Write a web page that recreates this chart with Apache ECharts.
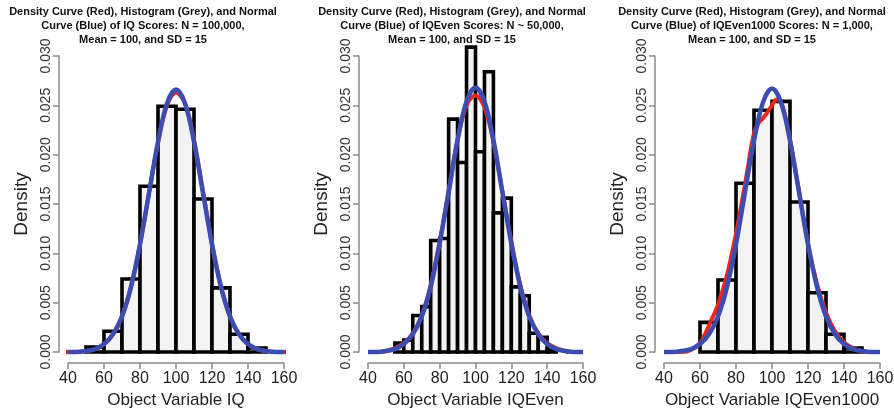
<!DOCTYPE html>
<html><head><meta charset="utf-8">
<script src="https://cdn.jsdelivr.net/npm/echarts@6/dist/echarts.min.js"></script>
<style>html,body{margin:0;padding:0;background:#fff}#c{width:894px;height:408px}</style>
</head><body><div id="c"></div>
<script>
// ---------- data ----------
const panelTitles = [
  'Density Curve (Red), Histogram (Grey), and Normal\nCurve (Blue) of IQ Scores: N = 100,000,\nMean = 100, and SD = 15',
  'Density Curve (Red), Histogram (Grey), and Normal\nCurve (Blue) of IQEven Scores: N ~ 50,000,\nMean = 100, and SD = 15',
  'Density Curve (Red), Histogram (Grey), and Normal\nCurve (Blue) of IQEven1000 Scores: N = 1,000,\nMean = 100, and SD = 15'
];
const xAxisNames = ['Object Variable IQ', 'Object Variable IQEven', 'Object Variable IQEven1000'];
const yAxisName = 'Density';

const iqBinStarts = [50, 60, 70, 80, 90, 100, 110, 120, 130, 140];
const iqBinWidth = 10;
const iqDensity = [0.0005, 0.0021, 0.0074, 0.0168, 0.0249, 0.0246, 0.0155, 0.0065, 0.0018, 0.0004];

const evenBinStarts = [55, 60, 65, 70, 75, 80, 85, 90, 95, 100, 105, 110, 115, 120, 125, 130, 135, 140];
const evenBinWidth = 5;
const evenDensity = [0.0009, 0.0012, 0.0037, 0.0046, 0.0113, 0.0115, 0.0236, 0.0192, 0.0309, 0.0203,
                     0.0284, 0.0141, 0.0156, 0.0066, 0.0057, 0.0019, 0.0015, 0.0003];

const even1000BinStarts = [60, 70, 80, 90, 100, 110, 120, 130, 140];
const even1000BinWidth = 10;
const even1000Density = [0.0030, 0.0073, 0.0171, 0.0245, 0.0254, 0.0152, 0.0060, 0.0018, 0.0004];

const normalX = [40, 45, 50, 55, 60, 65, 70, 75, 80, 85, 90, 95, 100, 105, 110, 115, 120, 125, 130, 135, 140, 145, 150, 155, 160];
const iqNormalY = [0.0000, 0.0000, 0.0001, 0.0003, 0.0008, 0.0018, 0.0036, 0.0066, 0.0109, 0.0161, 0.0213, 0.0252, 0.0266,
                   0.0252, 0.0213, 0.0161, 0.0109, 0.0066, 0.0036, 0.0018, 0.0008, 0.0003, 0.0001, 0.0000, 0.0000];
const evenNormalY = [0.0000, 0.0000, 0.0001, 0.0003, 0.0008, 0.0018, 0.0036, 0.0066, 0.0110, 0.0162, 0.0215, 0.0254, 0.0268,
                     0.0254, 0.0215, 0.0162, 0.0110, 0.0066, 0.0036, 0.0018, 0.0008, 0.0003, 0.0001, 0.0000, 0.0000];
const even1000NormalY = [0.0000, 0.0000, 0.0001, 0.0003, 0.0008, 0.0018, 0.0036, 0.0066, 0.0109, 0.0162, 0.0214, 0.0253, 0.0267,
                         0.0253, 0.0214, 0.0162, 0.0109, 0.0066, 0.0036, 0.0018, 0.0008, 0.0003, 0.0001, 0.0000, 0.0000];

const iqDensX = [35, 40, 45, 50, 55, 60, 65, 70, 75, 80, 85, 90, 95, 100, 105, 110, 115, 120, 125, 130, 135, 140, 145, 150, 155, 160, 165];
const iqDensY = [0.0000, 0.0000, 0.0000, 0.0001, 0.0003, 0.0008, 0.0018, 0.0036, 0.0066, 0.0109, 0.0161, 0.0212, 0.0250, 0.0263,
                 0.0252, 0.0215, 0.0163, 0.0110, 0.0066, 0.0036, 0.0018, 0.0008, 0.0003, 0.0001, 0.0000, 0.0000, 0.0000];
const evenDensX = [48, 50, 55, 60, 65, 70, 75, 80, 85, 90, 95, 100, 105, 110, 115, 120, 125, 130, 135, 140, 145, 150, 152];
const evenDensY = [0.0000, 0.0001, 0.0004, 0.0009, 0.0019, 0.0037, 0.0068, 0.0112, 0.0163, 0.0215, 0.0250, 0.0260,
                   0.0248, 0.0213, 0.0163, 0.0112, 0.0068, 0.0037, 0.0019, 0.0009, 0.0004, 0.0001, 0.0000];
const even1000DensX = [47, 50, 55, 60, 62.5, 65, 70, 75, 80, 85, 90, 92.5, 95, 97.5, 100, 102.5, 105, 107.5, 110, 115, 120, 125, 130, 135, 140, 145, 150, 153];
const even1000DensY = [0.0000, 0.0000, 0.0002, 0.0009, 0.0017, 0.0027, 0.0048, 0.0078, 0.0120, 0.0170, 0.0222, 0.0232, 0.0237,
                       0.0243, 0.0250, 0.0256, 0.0253, 0.0238, 0.0216, 0.0163, 0.0110, 0.0069, 0.0040, 0.0021, 0.0010, 0.0004, 0.0001, 0.0000];

const yMin = 0, yMax = 0.03, yStep = 0.005;
const xMin = 40, xMax = 160, xStep = 20;

const panels = [
  {starts: iqBinStarts, width: iqBinWidth, dens: iqDensity, nx: normalX, ny: iqNormalY, dx: iqDensX, dy: iqDensY},
  {starts: evenBinStarts, width: evenBinWidth, dens: evenDensity, nx: normalX, ny: evenNormalY, dx: evenDensX, dy: evenDensY},
  {starts: even1000BinStarts, width: even1000BinWidth, dens: even1000Density, nx: normalX, ny: even1000NormalY, dx: even1000DensX, dy: even1000DensY}
];
const gridPos = [
  {left: 68, top: 56, width: 216, height: 296},
  {left: 368, top: 56, width: 215, height: 296},
  {left: 664, top: 56, width: 216, height: 296}
];
const titleCenters = [138, 447, 747];
const FONT = '"Liberation Sans", Arial, sans-serif';
const AXIS_GREY = '#8c8c8c';

const option = {
  backgroundColor: '#ffffff',
  animation: false,
  title: panelTitles.map((t, i) => ({
    text: t, left: titleCenters[i], top: 0, textAlign: 'center',
    textStyle: {fontFamily: FONT, fontWeight: 'bold', fontSize: 11, lineHeight: 14, color: '#111'}
  })),
  grid: gridPos.map(g => Object.assign({containLabel: false, outerBoundsMode: 'none'}, g)),
  xAxis: panels.map((p, i) => ({
    type: 'value', gridIndex: i, min: xMin, max: xMax, interval: xStep, offset: 11,
    name: xAxisNames[i], nameLocation: 'middle', nameGap: 22,
    nameTextStyle: {fontFamily: FONT, fontSize: 17, color: '#222'},
    axisLine: {show: true, onZero: false, lineStyle: {color: AXIS_GREY, width: 1.5}},
    axisTick: {show: true, length: 6, lineStyle: {color: AXIS_GREY, width: 1.5}},
    axisLabel: {fontFamily: FONT, fontSize: 16, color: '#222', margin: 8},
    splitLine: {show: false}
  })),
  yAxis: panels.map((p, i) => ({
    type: 'value', gridIndex: i, min: yMin, max: yMax, interval: yStep, offset: 9,
    name: yAxisName, nameLocation: 'middle', nameGap: 28, nameRotate: 90,
    nameTextStyle: {fontFamily: FONT, fontSize: 19, color: '#222'},
    axisLine: {show: true, lineStyle: {color: AXIS_GREY, width: 1.5}},
    axisTick: {show: true, length: 6, lineStyle: {color: AXIS_GREY, width: 1.5}},
    axisLabel: {fontFamily: FONT, fontSize: 14, color: '#333', rotate: 90, margin: 6,
                formatter: v => v.toFixed(3)},
    splitLine: {show: false}
  })),
  series: []
};

panels.forEach((p, i) => {
  option.series.push({
    type: 'custom', xAxisIndex: i, yAxisIndex: i, z: 2,
    data: p.starts.map((s, k) => [s, s + p.width, p.dens[k]]),
    renderItem: (params, api) => {
      const a = api.coord([api.value(0), 0]);
      const b = api.coord([api.value(1), api.value(2)]);
      return {
        type: 'rect',
        shape: {x: a[0], y: b[1], width: b[0] - a[0], height: a[1] - b[1]},
        style: {fill: '#f3f3f3', stroke: '#000', lineWidth: 3.6}
      };
    }
  });
  option.series.push({
    type: 'line', xAxisIndex: i, yAxisIndex: i, z: 3, clip: false,
    data: p.dx.map((x, k) => [x, p.dy[k]]),
    smooth: 0.35, symbol: 'none',
    lineStyle: {color: '#e8271d', width: 4}
  });
  option.series.push({
    type: 'line', xAxisIndex: i, yAxisIndex: i, z: 4, clip: false,
    data: p.nx.map((x, k) => [x, p.ny[k]]),
    smooth: 0.35, symbol: 'none',
    lineStyle: {color: '#3b4db3', width: 4.5}
  });
});

const chart = echarts.init(document.getElementById('c'), null, {renderer: 'canvas'});
chart.setOption(option);
</script>
</body></html>
